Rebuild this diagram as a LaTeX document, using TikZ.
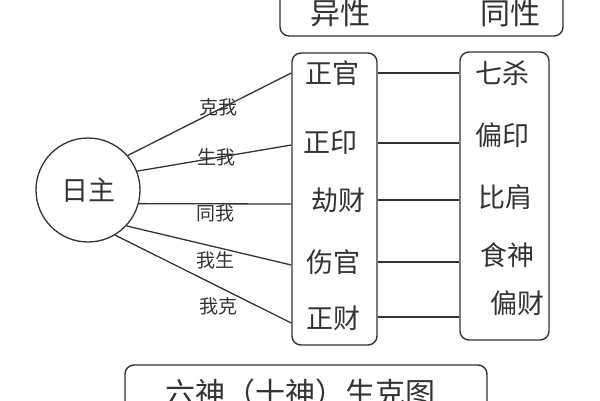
\documentclass[tikz,border=0pt]{standalone}
\usepackage{fontspec}
\newfontfamily\cjk{Noto Sans CJK SC}
\definecolor{ink}{HTML}{333333}
\begin{document}
\begin{tikzpicture}[x=1pt,y=-1pt,
  line/.style={draw=ink,line width=1.3pt},
  frame/.style={draw=ink,line width=1.4pt,rounded corners=9pt},
  big/.style={text=ink,font=\cjk\fontsize{27}{27}\selectfont,inner sep=0pt},
  title/.style={text=ink,font=\cjk\fontsize{30}{30}\selectfont,inner sep=0pt},
  small/.style={text=ink,font=\cjk\fontsize{19}{19}\selectfont,inner sep=0pt}]
\useasboundingbox (0,0) rectangle (600,400);
\clip (0,0) rectangle (600,400);
% top box
\draw[frame] (280,-20) rectangle (563,36);
\node[title] (yi) at (340,13) {异性};
\node[title] (tong) at (510,13) {同性};
% bottom box
\draw[frame] (125,365) rectangle (487,430);
\node[title] (cap) at (300,393) {六神（十神）生克图};
% circle
\node[circle,draw=ink,line width=1.3pt,minimum size=104pt,inner sep=0pt,big] (zhu) at (88,190) {日主};
% boxes
\node[frame,rectangle,minimum width=85pt,minimum height=292pt,inner sep=0pt] (lb) at (334.5,199) {};
\node[frame,rectangle,minimum width=89pt,minimum height=288pt,inner sep=0pt] (rb) at (504.5,196) {};
% left entries
\node[big] (a1) at (332,73) {正官};
\node[big] (a2) at (330,142) {正印};
\node[big] (a3) at (338,200) {劫财};
\node[big] (a4) at (333,262) {伤官};
\node[big] (a5) at (333,318) {正财};
% right entries
\node[big] (b1) at (502,73) {七杀};
\node[big] (b2) at (502,135) {偏印};
\node[big] (b3) at (505,197) {比肩};
\node[big] (b4) at (507,255) {食神};
\node[big] (b5) at (517,303) {偏财};
% connector end points
\coordinate (l1) at (lb.west |- 0,73);
\coordinate (l2) at (lb.west |- 0,145);
\coordinate (l3) at (lb.west |- 0,204);
\coordinate (l4) at (lb.west |- 0,265);
\coordinate (l5) at (lb.west |- 0,323);
\draw[line] (zhu.41) -- (l1);
\draw[line] (zhu.21) -- (l2);
\draw[line] (zhu.-15) -- (l3);
\draw[line] (zhu.-43) -- (l4);
\draw[line] (zhu.-59) -- (l5);
% labels
\node[small] (k1) at (218,107) {克我};
\node[small] (k2) at (216,157) {生我};
\node[small] (k3) at (215,213) {同我};
\node[small] (k4) at (215,260) {我生};
\node[small] (k5) at (218,306) {我克};
% horizontal connectors
\draw[line] (lb.east |- 0,73) -- (rb.west |- 0,73);
\draw[line] (lb.east |- 0,143) -- (rb.west |- 0,143);
\draw[line] (lb.east |- 0,200) -- (rb.west |- 0,200);
\draw[line] (lb.east |- 0,262) -- (rb.west |- 0,262);
\draw[line] (lb.east |- 0,317) -- (rb.west |- 0,317);
\end{tikzpicture}
\end{document}
